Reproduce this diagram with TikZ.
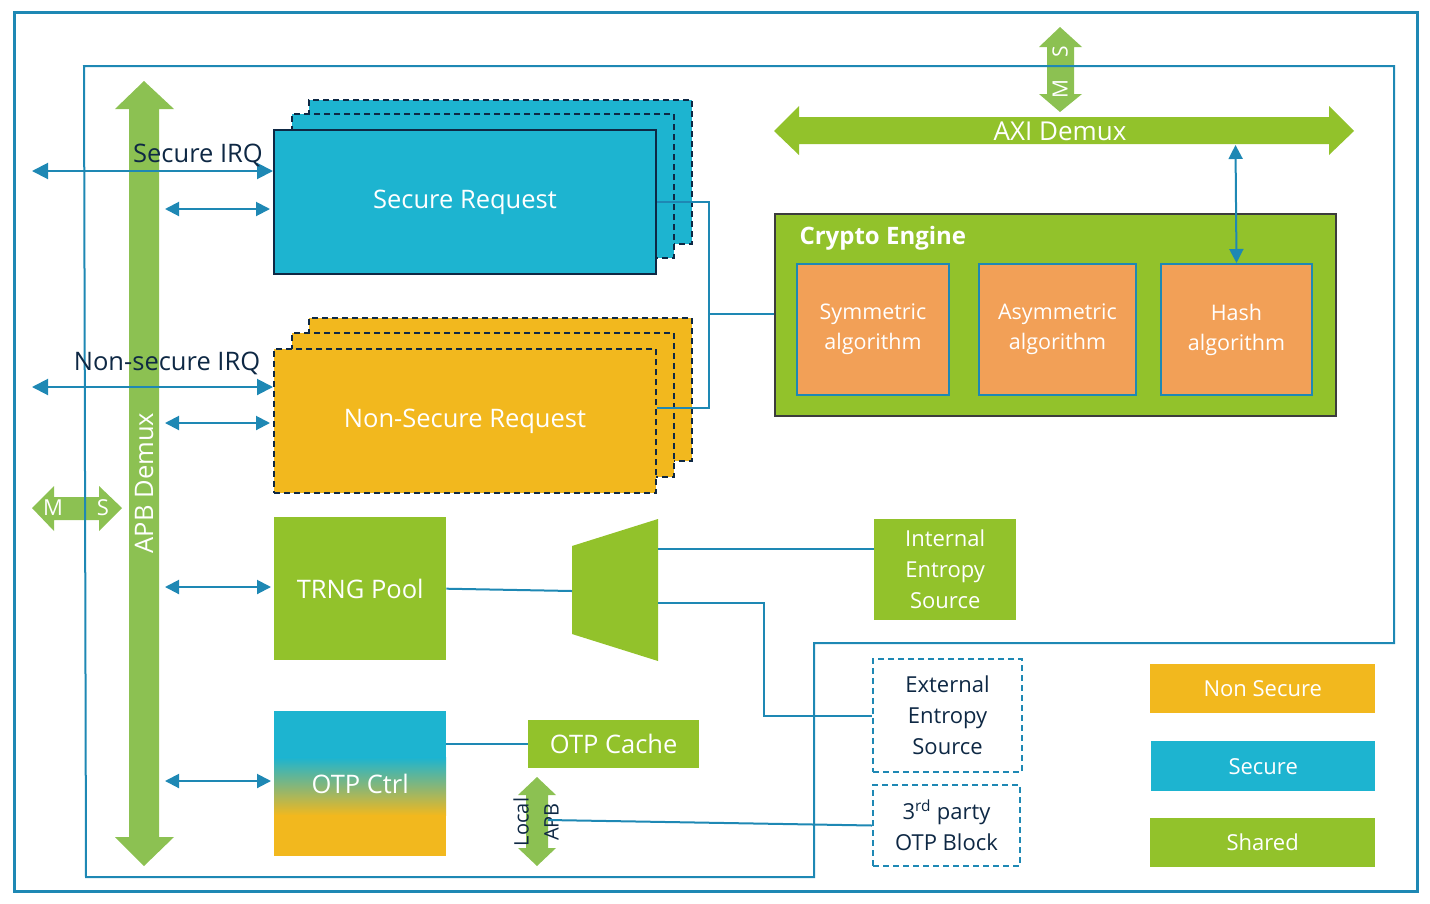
\documentclass[tikz,border=0pt]{standalone}
\usepackage{fontspec}
\setmainfont{Open Sans}
\usetikzlibrary{arrows.meta,calc}
\definecolor{lblue}{RGB}{30,136,180}
\definecolor{cyanf}{RGB}{29,180,208}
\definecolor{yelf}{RGB}{242,184,30}
\definecolor{grnf}{RGB}{146,194,43}
\definecolor{grna}{RGB}{140,193,82}
\definecolor{orgf}{RGB}{242,160,87}
\definecolor{navy}{RGB}{14,40,68}
\definecolor{cgray}{RGB}{60,60,60}
\begin{document}
\begin{tikzpicture}[x=1pt,y=-1pt,
  conn/.style={draw=lblue, line width=2pt},
  bia/.style={conn, {Triangle[length=14pt,width=14pt]}-{Triangle[length=14pt,width=14pt]}, shorten >=3pt},
  birq/.style={conn, {Triangle[length=16pt,width=16pt]}-{Triangle[length=16pt,width=16pt]}},
  blk/.style={rectangle, anchor=north west, inner sep=0pt, align=center, text=white},
  txtbig/.style={font=\fontsize{25.5}{30}\selectfont},
  txtsm/.style={font=\fontsize{22}{31}\selectfont},
  txtalg/.style={font=\fontsize{21.5}{30}\selectfont},
  dsh/.style={dash pattern=on 6pt off 4pt},
  secb/.style={blk, fill=cyanf, draw=navy, line width=2pt},
  nsb/.style={blk, fill=yelf, draw=navy, line width=2pt, dsh},
  grb/.style={blk, fill=grnf},
  algb/.style={blk, fill=orgf, draw=lblue, line width=2pt, txtalg},
  extb/.style={blk, draw=lblue, line width=2pt, dsh, text=navy, txtsm}
]
\useasboundingbox (0,0) rectangle (1430,903);

% ---- thick green bus arrows ----
\fill[grna] (144,81) -- (174,109) -- (159,109) -- (159,837) -- (174,837) -- (144,866) -- (115,837) -- (129,837) -- (129,109) -- (115,109) -- cycle;
\node[rotate=90, text=white, txtbig] (apb) at (144,483) {APB Demux};

\fill[grnf] (774,131) -- (799,106) -- (799,117) -- (1329,117) -- (1329,106) -- (1354,131) -- (1329,155) -- (1329,144) -- (799,144) -- (799,155) -- cycle;
\node[text=white, font=\fontsize{26}{30}\selectfont] (axi) at (1060,131) {AXI Demux};

\fill[grna] (1060,27) -- (1082,47) -- (1074,47) -- (1074,94) -- (1082,94) -- (1060,112) -- (1039,94) -- (1047,94) -- (1047,47) -- (1039,47) -- cycle;
\node[rotate=90, text=white, font=\fontsize{21}{25}\selectfont] (axim) at (1060,89) {M};
\node[rotate=90, text=white, font=\fontsize{21}{25}\selectfont] (axis) at (1060,52) {S};

\fill[grna] (32,508) -- (54,486) -- (54,497) -- (99,497) -- (99,486) -- (122,508) -- (99,531) -- (99,520) -- (54,520) -- (54,531) -- cycle;
\node[text=white, txtsm] (lm) at (53,508) {M};
\node[text=white, txtsm] (ls) at (103,508) {S};

\fill[grna] (537,777) -- (556,795) -- (548,795) -- (548,848) -- (556,848) -- (537,866) -- (518,848) -- (526,848) -- (526,795) -- (518,795) -- cycle;
\node[rotate=90, align=center, text=navy, font=\fontsize{20}{30}\selectfont] (lapb) at (536,822) {Local\\APB};

% ---- frames ----
\draw[lblue, line width=3pt] (14,12) rectangle (1417,891);
\draw[lblue, line width=2pt] (84,66) -- (1394,66) -- (1394,643) -- (814,643) -- (814,877) -- (86,877) -- cycle;

% ---- request stacks ----
\node[secb, dsh, minimum width=383pt, minimum height=144pt] (sb3) at (308,99) {};
\node[secb, dsh, minimum width=382pt, minimum height=144pt] (sb2) at (291,113) {};
\node[secb, minimum width=382pt, minimum height=144pt, txtbig] (sreq) at (273,129) {Secure Request};

\node[nsb, minimum width=383pt, minimum height=143pt] (nb3) at (308,317) {};
\node[nsb, minimum width=382pt, minimum height=144pt] (nb2) at (291,332) {};
\node[nsb, minimum width=382pt, minimum height=144pt, txtbig] (nsreq) at (273,348) {Non-Secure Request};

% ---- crypto engine ----
\node[blk, fill=grnf, draw=cgray, line width=2pt, minimum width=561pt, minimum height=202pt] (crypto) at (774,213) {};
\node[anchor=west, text=white, font=\fontsize{24}{28}\selectfont\bfseries] (ctitle) at (796,238) {Crypto Engine};
\node[algb, minimum width=152pt, minimum height=131pt] (sym) at (796,263) {Symmetric\\algorithm};
\node[algb, minimum width=157pt, minimum height=131pt] (asym) at (978,263) {Asymmetric\\algorithm};
\node[algb, minimum width=151pt, minimum height=131pt] (hash) at (1160,263) {Hash\\algorithm};

% ---- TRNG, mux, entropy ----
\node[grb, minimum width=172pt, minimum height=143pt, txtbig] (trng) at (274,517) {TRNG Pool};
\fill[grnf] (572,546) -- (658,519) -- (658,661) -- (572,634) -- cycle;
\coordinate (muxin) at (572,591);
\coordinate (muxo1) at (658,549);
\coordinate (muxo2) at (658,603);
\node[grb, minimum width=142pt, minimum height=101pt, txtsm] (ient) at (874,519) {Internal\\Entropy\\Source};
\node[extb, minimum width=149pt, minimum height=113pt] (eent) at (872,658) {External\\Entropy\\Source};
\node[extb, minimum width=147pt, minimum height=81pt] (tp) at (872,784) {3\textsuperscript{rd} party\\OTP Block};

% ---- OTP ----
\fill[cyanf] (274,711) rectangle (446,758);
\shade[top color=cyanf, bottom color=yelf] (274,757.5) rectangle (446,815.5);
\fill[yelf] (274,815) rectangle (446,856);
\node[blk, minimum width=172pt, minimum height=145pt, txtbig] (otpctrl) at (274,711) {OTP Ctrl};
\node[grb, minimum width=171pt, minimum height=48pt, txtbig] (otpcache) at (528,720) {OTP Cache};

% ---- legend ----
\node[blk, fill=yelf, minimum width=225pt, minimum height=49pt, txtsm] (lgns) at (1150,664) {Non Secure};
\node[blk, fill=cyanf, minimum width=224pt, minimum height=50pt, txtsm] (lgs) at (1151,741) {Secure};
\node[grb, minimum width=225pt, minimum height=49pt, txtsm] (lgsh) at (1150,818) {Shared};

% ---- connectors ----
\coordinate (bus) at (709,314);
\draw[conn] (sreq.east) -| (bus) |- ($(nsreq.east)+(0,-13)$);
\draw[conn] (bus) -- (crypto.west |- bus);
\coordinate (axib) at (1235.5,145);
\draw[conn, {Triangle[length=14pt,width=14pt]}-{Triangle[length=14pt,width=14pt]}] (axib) -- (hash.north);
\draw[conn] (trng.east) -- (muxin);
\draw[conn] (muxo1) -- (ient.west |- muxo1);
\draw[conn] (muxo2) -- ++(106,0) |- (eent.west);
\draw[conn] (otpctrl.east |- otpcache.west) -- (otpcache.west);
\coordinate (lapbo) at (548,820);
\draw[conn] (lapbo) -- (tp.west);

% ---- APB side arrows ----
\coordinate (sirq) at (32,171);
\draw[birq] (sirq) -- (sreq.west |- sirq);
\coordinate (a1) at (165,209);
\draw[bia] (a1) -- (sreq.west |- a1);
\coordinate (nirq) at (32,387);
\draw[birq] (nirq) -- (nsreq.west |- nirq);
\coordinate (a2) at (165,423);
\draw[bia] (a2) -- (nsreq.west |- a2);
\coordinate (a3) at (165,587);
\draw[bia] (a3) -- (trng.west |- a3);
\coordinate (a4) at (165,781);
\draw[bia] (a4) -- (otpctrl.west |- a4);

\node[anchor=base, text=navy, txtbig] (sirqlbl) at (198,162) {Secure IRQ};
\node[anchor=base, text=navy, txtbig] (nirqlbl) at (167,370) {Non-secure IRQ};
\end{tikzpicture}
\end{document}
